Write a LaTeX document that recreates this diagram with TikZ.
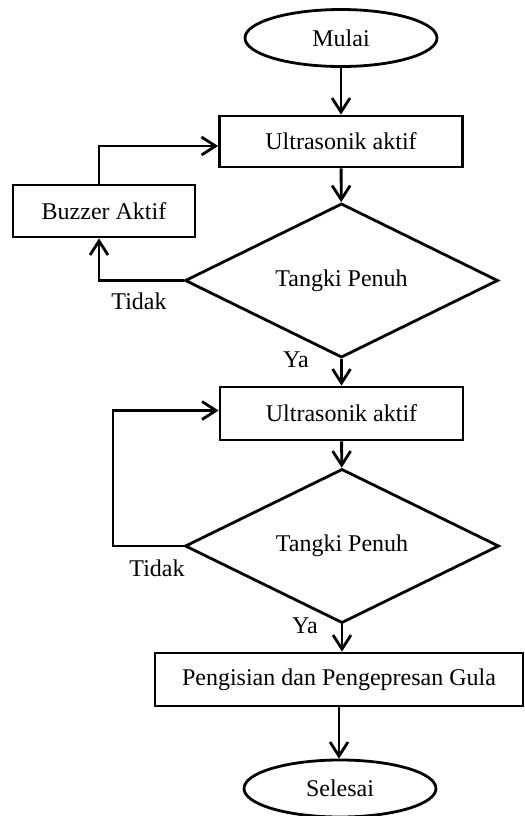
\documentclass[tikz,border=0pt]{standalone}
\usepackage{fontspec}
\setmainfont{Liberation Serif}
\usetikzlibrary{shapes.geometric}
\usetikzlibrary{arrows.meta}
\tikzstyle{every flow} = []
\tikzstyle{flow} = [-{Straight Barb[length=7pt,width=9pt]}, line width=1.4pt, draw, every flow]
\tikzstyle{proses} = [draw, rectangle, line width=1.4pt, inner sep=0pt, minimum height=26pt]
\tikzstyle{terminal} = [draw, ellipse, line width=1.4pt, inner sep=0pt, minimum width=96pt, minimum height=28.5pt]
\tikzstyle{keputusan} = [draw, diamond, line width=1.4pt, inner sep=0pt, minimum width=156.5pt, minimum height=54.5pt]
\tikzstyle{jawab} = [inner sep=0pt]

\begin{document}
\begin{tikzpicture}[x=0.5pt, y=-0.5pt]
        \tikzset{every node/.append style={font=\fontsize{12}{14}\selectfont}}
        \useasboundingbox (0,0) rectangle (525,816);

                \node[terminal] (mulai) at (341,38) {Mulai};
                \node[proses, minimum width=121.5pt, minimum height=25.5pt] (ultra1) at (341,141.5) {Ultrasonik aktif};
                \node[proses, minimum width=91pt] (buzzer) at (104,211) {Buzzer Aktif};
                \node[keputusan] (tangki1) at (341.5,280.5) {Tangki Penuh};
                \node[jawab] (tidak1) at (139,301) {Tidak};
                \node[jawab] (ya1) at (296,360) {Ya};

                \node[proses, minimum width=121.5pt, minimum height=26.5pt] (ultra2) at (341.5,413.5) {Ultrasonik aktif};
                \node[keputusan, minimum width=157pt, minimum height=55pt] (tangki2) at (342,546) {Tangki Penuh};
                \node[jawab] (tidak2) at (157,568) {Tidak};
                \node[jawab] (ya2) at (305,626) {Ya};
                \coordinate (belok) at (113,546);

                \node[proses, minimum width=184pt, minimum height=26.5pt] (isi) at (339,679.5) {Pengisian dan Pengepresan Gula};
                \node[terminal] (selesai) at (340,788.5) {Selesai};

                \draw[flow] (mulai) -- (ultra1);
                \draw[flow] (ultra1) -- (tangki1);
                \draw[flow] (tangki1.west) -| ([xshift=-2.5pt]buzzer.south);
                \draw[flow] ([xshift=-2.5pt]buzzer.north) |- ([yshift=-2.25pt]ultra1.west);
                \draw[flow] (tangki1) -- (ultra2);
                \draw[flow] (ultra2) -- (tangki2);
                \draw[flow] (tangki2.west) -- (belok) |- ([yshift=1.5pt]ultra2.west);
                \draw[flow] (tangki2.south) -- (tangki2.south |- isi.north);
                \draw[flow] (isi.south) -- (isi.south |- selesai.north);
                % \draw[flow] (isi) -- (selesai);

            \end{tikzpicture}
\end{document}
